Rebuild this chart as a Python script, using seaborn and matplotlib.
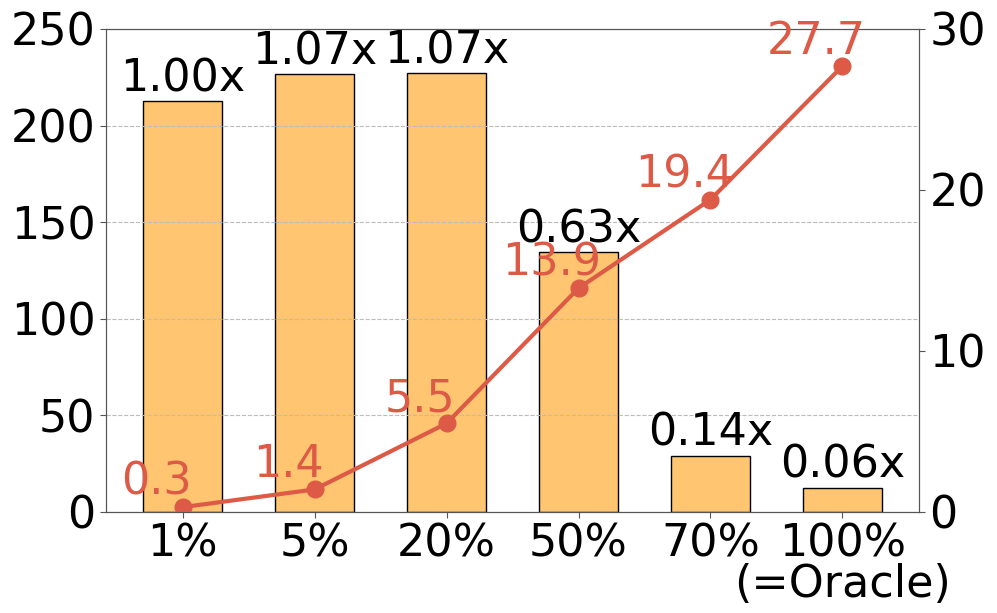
import matplotlib
matplotlib.use("Agg")
import matplotlib.pyplot as plt
import seaborn as sns
import pandas as pd

# Data
ratios = ["1%", "5%", "20%", "50%", "70%", "100%\n(=Oracle)"]
bar_values = [212.5, 226.5, 227, 134.5, 29, 12.5]
bar_labels = ["1.00x", "1.07x", "1.07x", "0.63x", "0.14x", "0.06x"]
line_values = [0.3, 1.4, 5.5, 13.9, 19.4, 27.7]

df = pd.DataFrame({"ratio": ratios, "value": bar_values})

bar_color = "#FFC570"
line_color = "#DD5A47"
fs = 32

fig = plt.figure(figsize=(9.97, 6.13), dpi=100)
ax = fig.add_axes([0.1063, 0.1648, 0.8155, 0.7879])

sns.barplot(data=df, x="ratio", y="value", color=bar_color, width=0.6,
            edgecolor="black", linewidth=1, saturation=1, ax=ax)
ax.set_ylim(0, 250)
ax.set_yticks([0, 50, 100, 150, 200, 250])
ax.set_xlabel("")
ax.set_ylabel("")
ax.grid(axis="y", linestyle="--", color="#bbbbbb", linewidth=0.8)
ax.set_axisbelow(False)
ax.tick_params(labelsize=fs, length=4, color="#555555")
for lab in ax.get_xticklabels():
    lab.set_linespacing(0.92)

# speedup labels above bars
for i, (v, lab) in enumerate(zip(bar_values, bar_labels)):
    ax.text(i, v + 0.5, lab, ha="center", va="bottom", fontsize=fs, color="black")

ax2 = ax.twinx()
ax2.plot(range(len(line_values)), line_values, color=line_color, linewidth=3,
         marker="o", markersize=12)
ax2.set_ylim(0, 30)
ax2.set_yticks([0, 10, 20, 30])
ax2.tick_params(labelsize=fs, length=4, color="#555555")

for i, v in enumerate(line_values):
    ax2.text(i - 0.2, v + 0.2, f"{v}", ha="center", va="bottom",
             fontsize=fs, color=line_color)

for a in (ax, ax2):
    for s in a.spines.values():
        s.set_color("#555555")

fig.savefig("out.png", dpi=100)
